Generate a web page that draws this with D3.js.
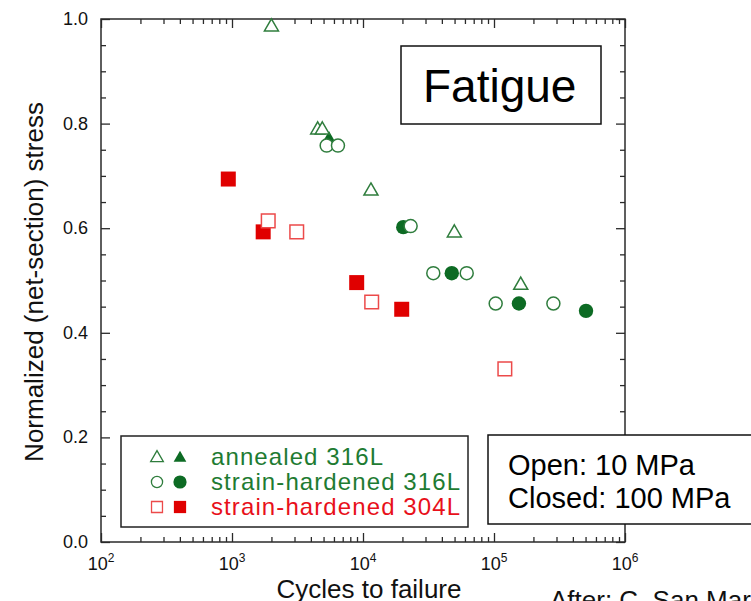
<!DOCTYPE html>
<html>
<head>
<meta charset="utf-8">
<script src="https://cdn.jsdelivr.net/npm/d3@7"></script>
<style>
  html, body { margin: 0; padding: 0; background: #fff; }
  svg { display: block; font-family: "Liberation Sans", Arial, Helvetica, sans-serif; }
</style>
</head>
<body>
<svg id="chart" width="751" height="601"></svg>
<script>
// cycles to failure / normalized stress
const annealedOpen = [[2000, 0.985], [4510, 0.788], [4890, 0.788], [11500, 0.671], [49800, 0.591], [160000, 0.491]];
const annealedClosed = [[5500, 0.769]];
const hard316Open = [[5280, 0.758], [6440, 0.758], [23100, 0.604], [34400, 0.514], [61900, 0.514], [103000, 0.456], [284000, 0.456]];
const hard316Closed = [[20300, 0.602], [47600, 0.514], [155000, 0.456], [504000, 0.442]];
const hard304Open = [[1890, 0.614], [3120, 0.593], [11650, 0.459], [121000, 0.331]];
const hard304Closed = [[937, 0.694], [1730, 0.593], [8950, 0.496], [19750, 0.445]];

const xMajor = [1e2, 1e3, 1e4, 1e5, 1e6];
const yMajor = [0, 0.2, 0.4, 0.6, 0.8, 1.0];
const legendLabels = ["annealed 316L", "strain-hardened 316L", "strain-hardened 304L"];

const green = "#0d6b24";
const greenText = "#1e7b32";
const red = "#e00000";

const svg = d3.select("#chart");
const plotL = 101, plotR = 625, plotT = 19, plotB = 542;

const x = d3.scaleLog().domain([1e2, 1e6]).range([plotL, plotR]);
const y = d3.scaleLinear().domain([0, 1]).range([plotB, plotT]);

const xMinor = x.ticks().filter(d => !xMajor.includes(d));
const yMinor = d3.range(0, 1.0001, 0.05).filter(d => Math.round(d * 100) % 20 !== 0);

const frameColor = "#2a2a2a";

// ticks on all four sides, pointing inward
const addAxis = (axisFn, scale, values, size, transform) => {
    const g = svg.append("g")
        .attr("transform", transform)
        .call(axisFn(scale).tickValues(values).tickSize(size).tickFormat(""));
    g.select(".domain").remove();
    g.selectAll(".tick line").attr("stroke", frameColor).attr("stroke-width", 1.3);
};
addAxis(d3.axisBottom, x, xMajor, -9, `translate(0,${plotB})`);
addAxis(d3.axisBottom, x, xMinor, -5, `translate(0,${plotB})`);
addAxis(d3.axisTop, x, xMajor, -9, `translate(0,${plotT})`);
addAxis(d3.axisTop, x, xMinor, -5, `translate(0,${plotT})`);
addAxis(d3.axisLeft, y, yMajor, -9, `translate(${plotL},0)`);
addAxis(d3.axisLeft, y, yMinor, -5, `translate(${plotL},0)`);
addAxis(d3.axisRight, y, yMajor, -9, `translate(${plotR},0)`);
addAxis(d3.axisRight, y, yMinor, -5, `translate(${plotR},0)`);

svg.append("rect")
    .attr("x", plotL).attr("y", plotT)
    .attr("width", plotR - plotL).attr("height", plotB - plotT)
    .attr("fill", "none").attr("stroke", frameColor).attr("stroke-width", 1.5);

// tick labels
const xl = svg.append("g").selectAll("text").data(xMajor).join("text")
    .attr("x", d => x(d))
    .attr("y", 570)
    .attr("text-anchor", "middle")
    .attr("font-size", 18)
    .attr("fill", "#111");
xl.append("tspan").text("10");
xl.append("tspan").attr("dy", -8).attr("font-size", 12).text(d => Math.round(Math.log10(d)));

svg.append("g").selectAll("text").data(yMajor).join("text")
    .attr("x", 88)
    .attr("y", d => y(d) + 6)
    .attr("text-anchor", "end")
    .attr("font-size", 18)
    .attr("fill", "#111")
    .text(d => d.toFixed(1));

// axis titles
svg.append("text")
    .attr("x", 369).attr("y", 598)
    .attr("text-anchor", "middle")
    .attr("font-size", 26)
    .attr("fill", "#111")
    .text("Cycles to failure");

svg.append("text")
    .attr("transform", "translate(43,282) rotate(-90)")
    .attr("text-anchor", "middle")
    .attr("font-size", 26)
    .attr("fill", "#111")
    .text("Normalized (net-section) stress");

// markers
const tri = d3.symbol(d3.symbolTriangle, 100);
const triOpen = d3.symbol(d3.symbolTriangle, 85);
const sq = d3.symbol(d3.symbolSquare, 225);
const sqOpen = d3.symbol(d3.symbolSquare, 185);

const plotSymbols = (data, pathFn, fill, stroke) => {
    svg.append("g").selectAll("path").data(data).join("path")
        .attr("transform", d => `translate(${x(d[0])},${y(d[1])})`)
        .attr("d", pathFn)
        .attr("fill", fill)
        .attr("stroke", stroke || "none")
        .attr("stroke-width", 1.5);
};
const plotCircles = (data, r, fill, stroke) => {
    svg.append("g").selectAll("circle").data(data).join("circle")
        .attr("cx", d => x(d[0]))
        .attr("cy", d => y(d[1]))
        .attr("r", r)
        .attr("fill", fill)
        .attr("stroke", stroke || "none")
        .attr("stroke-width", 1.5);
};

// filled (closed) first, open markers on top with white fill
plotSymbols(hard304Closed, sq, red);
plotSymbols(annealedClosed, tri, green);
plotCircles(hard316Closed, 7.2, green);
plotSymbols(hard304Open, sqOpen, "#fff", "#ec4a4a");
plotSymbols(annealedOpen, triOpen, "#fff", "#2f7d3d");
plotCircles(hard316Open, 6.5, "#fff", "#2f7d3d");

// Fatigue box
svg.append("rect")
    .attr("x", 401).attr("y", 46).attr("width", 200).attr("height", 78)
    .attr("fill", "#fff").attr("stroke", "#111").attr("stroke-width", 1.5);
svg.append("text")
    .attr("x", 423).attr("y", 102)
    .attr("font-size", 46)
    .attr("fill", "#000")
    .text("Fatigue");

// legend
const lg = svg.append("g");
lg.append("rect")
    .attr("x", 121).attr("y", 436).attr("width", 347).attr("height", 91)
    .attr("fill", "#fff").attr("stroke", "#222").attr("stroke-width", 1.5);
const rowY = [457, 482, 507];
const legendColors = [greenText, greenText, "#e8101a"];
lg.selectAll("text").data(legendLabels).join("text")
    .attr("x", 211)
    .attr("y", (d, i) => rowY[i] + 8)
    .attr("font-size", 24)
    .attr("letter-spacing", 1.1)
    .attr("fill", (d, i) => legendColors[i])
    .text(d => d);

const lTri = d3.symbol(d3.symbolTriangle, 70);
const lSq = d3.symbol(d3.symbolSquare, 150);
lg.append("path").attr("transform", `translate(157,${rowY[0] + 1})`).attr("d", lTri)
    .attr("fill", "none").attr("stroke", "#2f7d3d").attr("stroke-width", 1.3);
lg.append("path").attr("transform", `translate(180,${rowY[0] + 1})`).attr("d", lTri).attr("fill", green);
lg.append("circle").attr("cx", 157).attr("cy", rowY[1]).attr("r", 5.6)
    .attr("fill", "none").attr("stroke", "#2f7d3d").attr("stroke-width", 1.3);
lg.append("circle").attr("cx", 180).attr("cy", rowY[1]).attr("r", 6.6).attr("fill", green);
lg.append("path").attr("transform", `translate(157,${rowY[2]})`).attr("d", d3.symbol(d3.symbolSquare, 120))
    .attr("fill", "none").attr("stroke", "#ec4a4a").attr("stroke-width", 1.3);
lg.append("path").attr("transform", `translate(180,${rowY[2]})`).attr("d", lSq).attr("fill", red);

// open / closed note box
svg.append("rect")
    .attr("x", 488).attr("y", 435).attr("width", 300).attr("height", 89)
    .attr("fill", "#fff").attr("stroke", "#111").attr("stroke-width", 1.5);
svg.append("text")
    .attr("x", 508).attr("y", 475)
    .attr("font-size", 29)
    .attr("fill", "#000")
    .text("Open: 10 MPa");
svg.append("text")
    .attr("x", 508).attr("y", 508)
    .attr("font-size", 29)
    .attr("fill", "#000")
    .text("Closed: 100 MPa");

svg.append("text")
    .attr("x", 550).attr("y", 609)
    .attr("font-size", 26)
    .attr("fill", "#111")
    .text("After: C. San Marchi");
</script>
</body>
</html>
